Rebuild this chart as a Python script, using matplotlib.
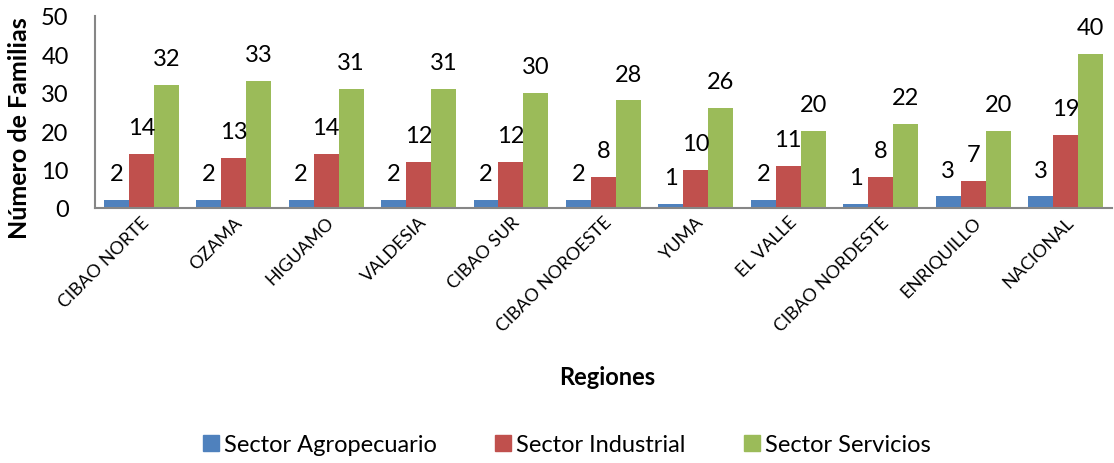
import numpy as np
import matplotlib.pyplot as plt
from matplotlib.lines import Line2D

plt.rcParams['font.family'] = ['Lato', 'DejaVu Sans']

regiones = ["CIBAO NORTE", "OZAMA", "HIGUAMO", "VALDESIA", "CIBAO SUR",
            "CIBAO NOROESTE", "YUMA", "EL VALLE", "CIBAO NORDESTE",
            "ENRIQUILLO", "NACIONAL"]
agropecuario = [2, 2, 2, 2, 2, 2, 1, 2, 1, 3, 3]
industrial = [14, 13, 14, 12, 12, 8, 10, 11, 8, 7, 19]
servicios = [32, 33, 31, 31, 30, 28, 26, 20, 22, 20, 40]

series = [
    ("Sector Agropecuario", agropecuario, "#4F81BD"),
    ("Sector Industrial", industrial, "#C0504D"),
    ("Sector Servicios", servicios, "#9BBB59"),
]

fig = plt.figure(figsize=(11.14, 4.64), dpi=100)
ax = fig.add_axes([0.0853, 0.5496, 0.9127, 0.4138])

x = np.arange(len(regiones))
width = 0.27
for i, (name, vals, color) in enumerate(series):
    pos = x + (i - 1) * width
    ax.bar(pos, vals, width, color=color, label=name)
    for px, v in zip(pos, vals):
        ax.annotate(str(v), (px, v), xytext=(0, 19), textcoords="offset points",
                    ha="center", va="center", fontsize=17)

ax.set_xlim(-0.5, len(regiones) - 0.5)
ax.set_ylim(0, 50)
ax.set_yticks([0, 10, 20, 30, 40, 50])
ax.tick_params(axis="y", length=0, labelsize=17, pad=19)
ax.tick_params(axis="x", length=0, labelsize=13, pad=4)
ax.set_xticks(x)
ax.set_xticklabels(regiones, rotation=45, ha="right", rotation_mode="anchor")
for s in ["top", "right"]:
    ax.spines[s].set_visible(False)
for s in ["left", "bottom"]:
    ax.spines[s].set_color("#868686")
    ax.spines[s].set_linewidth(1.5)

ax.set_ylabel("Número de Familias", fontsize=18, fontweight="bold")
ax.yaxis.set_label_coords(-0.063, 0.42)
fig.text(0.545, 0.187, "Regiones", ha="center", va="center",
         fontsize=17, fontweight="bold")

handles = [Line2D([], [], marker="s", linestyle="none", markersize=12,
                  color=c, label=n) for n, _, c in series]
fig.legend(handles=handles, loc="center", bbox_to_anchor=(0.507, 0.04),
           ncol=3, frameon=False, fontsize=17, handletextpad=0.05,
           columnspacing=2.3, handlelength=1.0)

fig.savefig("out.png", dpi=100)
